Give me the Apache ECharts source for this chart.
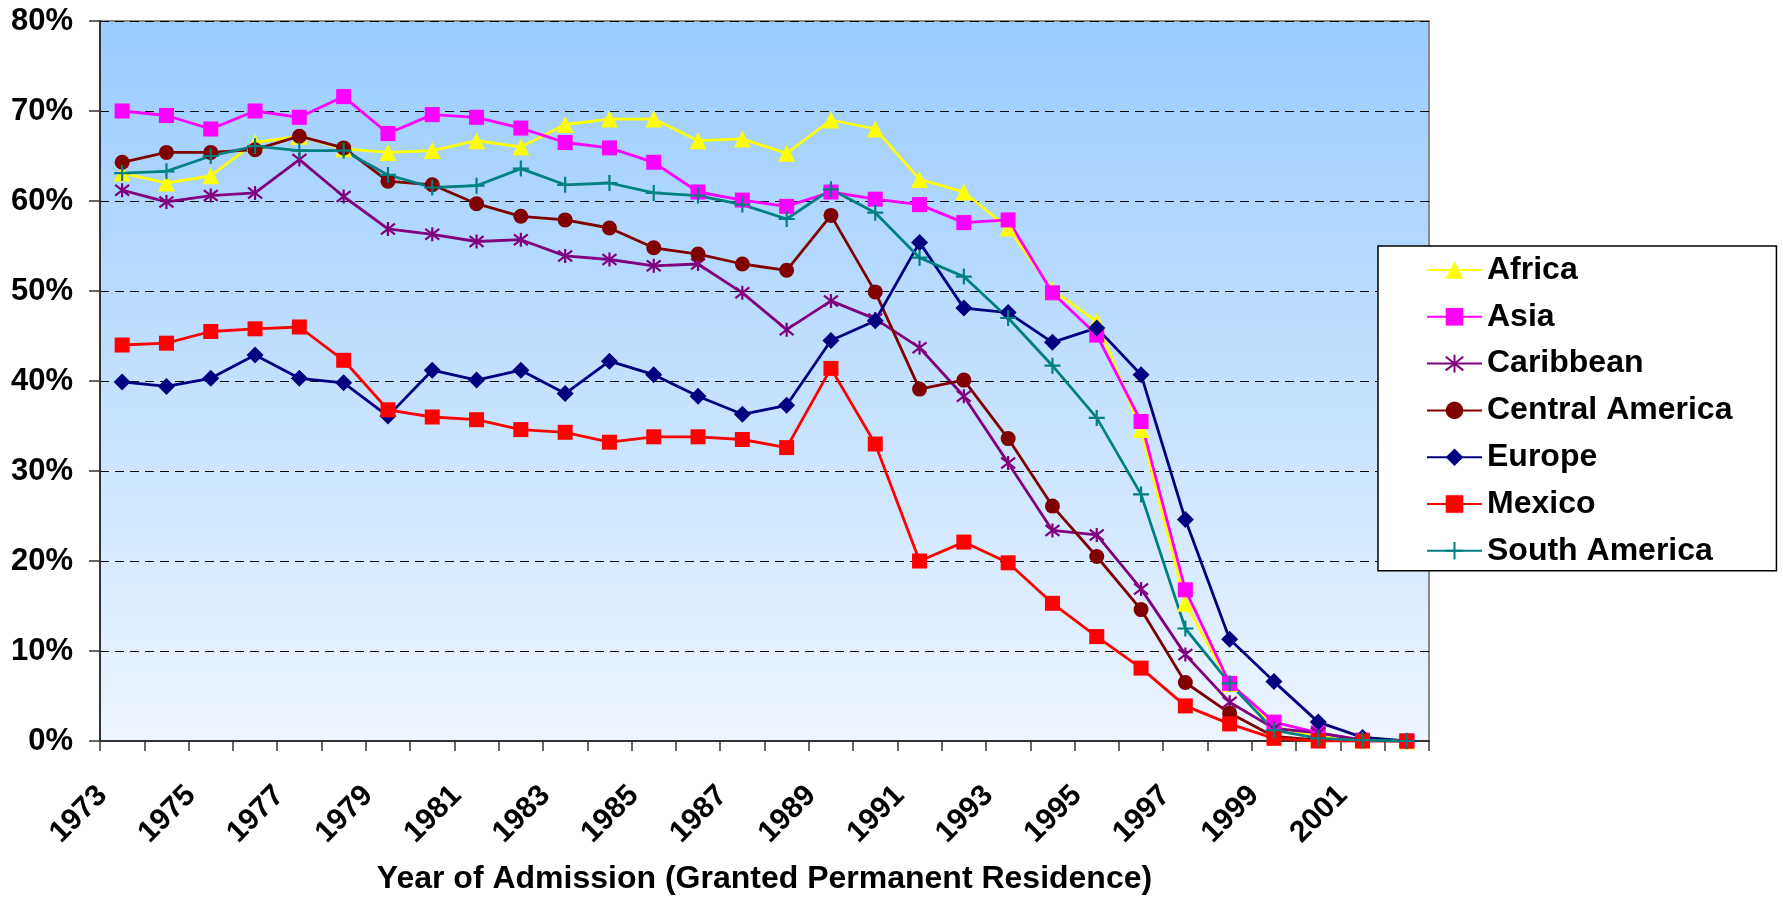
<!DOCTYPE html>
<html>
<head>
<meta charset="utf-8">
<script src="https://cdn.jsdelivr.net/npm/echarts@6/dist/echarts.min.js"></script>
<style>
  html, body { margin: 0; padding: 0; background: #fff; }
  #chart { width: 1783px; height: 901px; }
</style>
</head>
<body>
<div id="chart"></div>
<script>
// years of admission
const years = ["1973","1974","1975","1976","1977","1978","1979","1980","1981","1982",
  "1983","1984","1985","1986","1987","1988","1989","1990","1991","1992",
  "1993","1994","1995","1996","1997","1998","1999","2000","2001","2002"];

// share of each region, in percent
const africa = [63.1,62.0,62.8,66.5,67.2,65.8,65.4,65.6,66.7,66.0,68.5,69.1,69.1,66.7,66.9,65.3,69.0,68.0,62.4,61.0,57.0,50.1,46.6,34.6,15.3,6.4,1.6,0.5,0.1,0];
const asia = [70.0,69.5,68.0,70.0,69.3,71.6,67.5,69.6,69.3,68.1,66.5,65.9,64.3,61.0,60.1,59.4,61.0,60.2,59.6,57.6,57.9,49.8,45.1,35.5,16.8,6.4,2.1,0.9,0.1,0];
const caribbean = [61.2,59.9,60.6,60.9,64.6,60.5,56.9,56.3,55.5,55.7,53.9,53.5,52.8,53.0,49.8,45.7,48.9,46.9,43.7,38.3,30.9,23.4,22.9,16.9,9.6,4.3,1.4,0.9,0.1,0];
const centralAmerica = [64.3,65.4,65.4,65.7,67.2,65.9,62.2,61.8,59.7,58.3,57.9,57.0,54.8,54.1,53.0,52.3,58.4,49.9,39.1,40.1,33.6,26.1,20.5,14.6,6.5,3.1,0.5,0.1,0,0];
const europe = [39.9,39.4,40.3,42.9,40.3,39.8,36.1,41.2,40.1,41.2,38.6,42.2,40.7,38.3,36.3,37.3,44.5,46.7,55.4,48.1,47.6,44.3,45.9,40.7,24.6,11.3,6.6,2.1,0.4,0];
const mexico = [44.0,44.2,45.5,45.8,46.0,42.3,36.8,36.0,35.7,34.6,34.3,33.2,33.8,33.8,33.5,32.6,41.4,33.0,20.0,22.1,19.8,15.3,11.6,8.1,3.9,1.9,0.3,0,0,0];
const southAmerica = [63.1,63.3,65.0,66.1,65.6,65.6,62.9,61.5,61.7,63.6,61.8,62.0,60.9,60.6,59.6,58.0,61.3,58.7,53.7,51.6,47.0,41.7,35.9,27.4,12.5,6.4,1.2,0.3,0.1,0];

const FONT = "'Liberation Sans', Arial, Helvetica, sans-serif";
const ASTERISK = "path://M0,0L10,10M10,0L0,10M5,-1.5L5,11.5";
const PLUS = "path://M0,5L10,5M5,0L5,10";

function line(name, data, color, symbol, size, stroked) {
  return {
    name: name,
    type: "line",
    data: data,
    symbol: symbol,
    symbolSize: size,
    showAllSymbol: true,
    lineStyle: { color: color, width: 2.8 },
    itemStyle: stroked
      ? { color: color, borderColor: color, borderWidth: 2.2 }
      : { color: color, borderWidth: 0 },
    emphasis: { disabled: true }
  };
}

const chart = echarts.init(document.getElementById("chart"));
chart.setOption({
  animation: false,
  textStyle: { fontFamily: FONT },
  grid: {
    left: 100, right: 354, top: 21, bottom: 160,
    show: true,
    borderColor: "#888",
    borderWidth: 2,
    backgroundColor: new echarts.graphic.LinearGradient(0, 0, 0, 1, [
      { offset: 0, color: "#99CCFF" },
      { offset: 1, color: "#EDF5FF" }
    ])
  },
  legend: {
    orient: "vertical",
    left: 1378, top: 246,
    padding: [8, 44, 4, 48],
    itemWidth: 55, itemHeight: 22, itemGap: 14.8,
    backgroundColor: "#fff",
    borderColor: "#000", borderWidth: 1.5,
    textStyle: { fontSize: 32, fontWeight: "bold", color: "#000", lineHeight: 32, fontFamily: FONT },
    data: ["Africa","Asia","Caribbean","Central America","Europe","Mexico","South America"]
  },
  xAxis: {
    type: "category",
    data: years,
    boundaryGap: true,
    name: "Year of Admission (Granted Permanent Residence)",
    nameLocation: "middle",
    nameGap: 122,
    nameTextStyle: { fontSize: 32, fontWeight: "bold", color: "#000", fontFamily: FONT },
    axisLine: { lineStyle: { color: "#333", width: 2 } },
    axisTick: { show: true, interval: 0, length: 10, lineStyle: { color: "#333", width: 1.5 } },
    axisLabel: {
      interval: 1, rotate: 45, margin: 30,
      padding: [0, 28, 0, 0],
      fontSize: 30, fontWeight: "bold", color: "#000", fontFamily: FONT
    },
    splitLine: { show: false }
  },
  yAxis: {
    type: "value",
    min: 0, max: 80, interval: 10,
    axisLine: { show: true, lineStyle: { color: "#333", width: 2 } },
    axisTick: { show: true, length: 11, lineStyle: { color: "#333", width: 1.5 } },
    axisLabel: {
      formatter: "{value}%", margin: 27,
      fontSize: 31, fontWeight: "bold", color: "#000", fontFamily: FONT
    },
    splitLine: { show: true, lineStyle: { color: "#000", width: 1.2, type: [9, 6] } }
  },
  series: [
    line("Africa", africa, "#FFFF00", "triangle", 17),
    line("Asia", asia, "#FF00FF", "rect", 15),
    line("Caribbean", caribbean, "#800080", ASTERISK, 14, true),
    line("Central America", centralAmerica, "#800000", "circle", 15),
    line("Europe", europe, "#000080", "diamond", 17),
    line("Mexico", mexico, "#FF0000", "rect", 15),
    line("South America", southAmerica, "#008080", PLUS, 16, true)
  ]
});
</script>
</body>
</html>
